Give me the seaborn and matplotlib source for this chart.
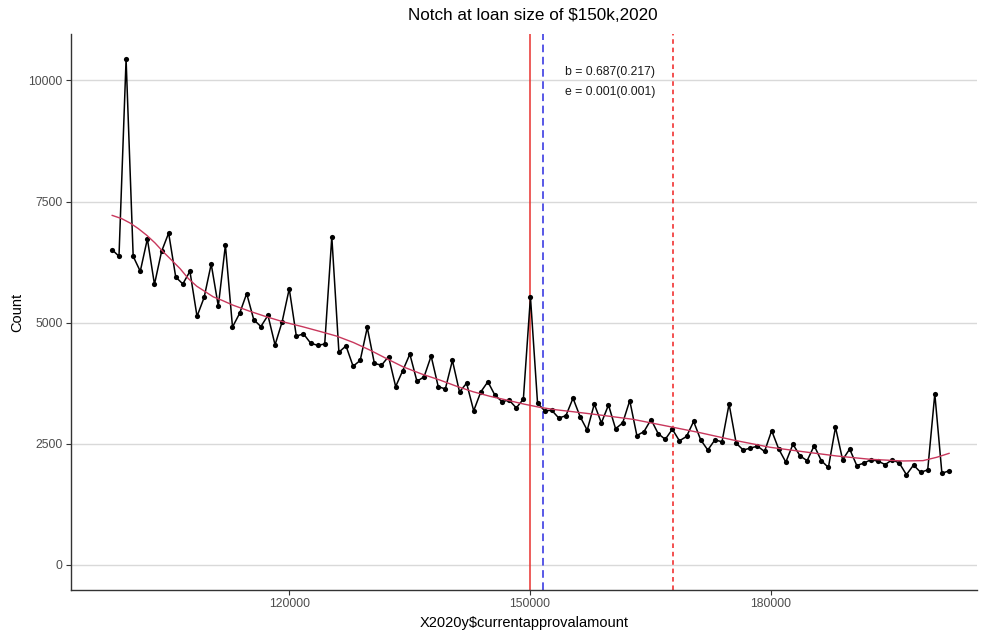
import numpy as np
import pandas as pd
import matplotlib
matplotlib.use("Agg")
import matplotlib.pyplot as plt
import seaborn as sns

# ---------------- data ----------------
loan_size = [
    97900, 98784, 99668, 100552, 101436, 102320, 103204, 104088, 104972, 105856,
    106740, 107624, 108508, 109392, 110276, 111160, 112044, 112928, 113812, 114696,
    115580, 116464, 117348, 118232, 119116, 120000, 120884, 121768, 122652, 123536,
    124420, 125304, 126188, 127072, 127956, 128840, 129724, 130608, 131492, 132376,
    133260, 134144, 135028, 135912, 136796, 137680, 138564, 139448, 140332, 141216,
    142100, 142984, 143868, 144752, 145636, 146520, 147404, 148288, 149172, 150056,
    150940, 151824, 152708, 153592, 154476, 155360, 156244, 157128, 158012, 158896,
    159780, 160664, 161548, 162432, 163316, 164200, 165084, 165968, 166852, 167736,
    168620, 169504, 170388, 171272, 172156, 173040, 173924, 174808, 175692, 176576,
    177460, 178344, 179228, 180112, 180996, 181880, 182764, 183648, 184532, 185416,
    186300, 187184, 188068, 188952, 189836, 190720, 191604, 192488, 193372, 194256,
    195140, 196024, 196908, 197792, 198676, 199560, 200444, 201328, 202212,
]
count = [
    6510, 6370, 10440, 6370, 6060, 6730, 5790, 6470, 6850, 5940,
    5800, 6060, 5130, 5520, 6210, 5340, 6600, 4910, 5190, 5600,
    5060, 4920, 5150, 4540, 5020, 5700, 4720, 4770, 4580, 4530,
    4560, 6770, 4390, 4520, 4100, 4220, 4900, 4160, 4120, 4300,
    3680, 4010, 4350, 3790, 3880, 4310, 3680, 3630, 4220, 3570,
    3750, 3180, 3570, 3780, 3500, 3370, 3400, 3240, 3420, 5530,
    3340, 3180, 3190, 3030, 3080, 3440, 3060, 2780, 3320, 2930,
    3300, 2810, 2930, 3390, 2670, 2750, 3000, 2710, 2590, 2800,
    2560, 2650, 2960, 2580, 2370, 2580, 2540, 3320, 2510, 2370,
    2410, 2450, 2340, 2770, 2390, 2120, 2490, 2250, 2150, 2460,
    2150, 2010, 2840, 2170, 2390, 2050, 2100, 2170, 2140, 2070,
    2170, 2100, 1860, 2060, 1910, 1960, 3530, 1890, 1940,
]

# counterfactual fit (red curve)
fit_x = [97913, 99121, 100156, 101190, 102243, 103271, 104305, 105353, 106386,
         107421, 108467, 109579, 110536, 111583, 112990, 115000, 117190, 119400,
         121713, 123800, 125912, 128000, 130062, 132100, 134174, 136500, 138785,
         140800, 142897, 145000, 147097, 149200, 151246, 153300, 155358, 158723,
         162835, 167034, 171184, 175296, 179907, 184019, 188218, 192368, 196480,
         198972, 200679, 202249]
fit_y = [7216, 7148, 7058, 6942, 6804, 6646, 6460, 6289, 6117,
         5911, 5753, 5635, 5532, 5464, 5361, 5240, 5120, 5010,
         4914, 4820, 4722, 4590, 4433, 4260, 4089, 3940, 3814,
         3690, 3574, 3480, 3402, 3320, 3251, 3200, 3161, 3093,
         3004, 2866, 2728, 2577, 2427, 2336, 2247, 2179, 2144,
         2151, 2220, 2303]

notch = 150000
lower_bound = 151620
upper_bound = 167780
annot_text = ["b = 0.687(0.217)", "e = 0.001(0.001)"]
annot_x = 160000
annot_y = [10170, 9760]
y_ticks = [0, 2500, 5000, 7500, 10000]
x_ticks = [120000, 150000, 180000]

title = "Notch at loan size of $150k,2020"
xlabel = "X2020y$currentapprovalamount"
ylabel = "Count"

# ---------------- plot ----------------
sns.set_theme(style="white")
plt.rcParams["font.family"] = ["Liberation Sans", "DejaVu Sans"]

df = pd.DataFrame({"x": loan_size, "y": count})
fit = pd.DataFrame({"x": fit_x, "y": fit_y})

W, H = 982, 633
fig = plt.figure(figsize=(W / 100, H / 100), dpi=100)
L, R, T, B = 71, 977, 34, 590
ax = fig.add_axes([L / W, 1 - B / H, (R - L) / W, (B - T) / H])

for yt in y_ticks:
    ax.axhline(yt, color="#D9D9D9", lw=1.0, zorder=0)

sns.lineplot(data=df, x="x", y="y", color="black", lw=1.1, ax=ax, zorder=3)
sns.scatterplot(data=df, x="x", y="y", color="black", s=14, edgecolor="black",
                linewidth=0, ax=ax, zorder=4)
sns.lineplot(data=fit, x="x", y="y", color="#C8375C", lw=1.0, ax=ax, zorder=5)

ax.axvline(notch, color="#E8312F", lw=1.1, zorder=2)
ax.axvline(lower_bound, color="#2B2BE0", lw=1.1, ls=(0, (5, 3)), zorder=2)
ax.axvline(upper_bound, color="#F02020", lw=1.1, ls=(0, (3, 2.5)), zorder=2)

for t, yy in zip(annot_text, annot_y):
    ax.text(annot_x, yy, t, ha="center", va="center", fontsize=8.8, color="#1a1a1a")

ax.set_xlim(92804, 205701)
ax.set_ylim(-520, 10960)
ax.set_xticks(x_ticks)
ax.set_xticklabels([str(v) for v in x_ticks])
ax.set_yticks(y_ticks)
ax.set_yticklabels([str(v) for v in y_ticks])
ax.tick_params(axis="both", which="both", length=3.5, width=0.8, color="#333333",
               labelcolor="#4D4D4D", labelsize=8.8, pad=2.5,
               bottom=True, left=True)
for s in ["top", "right"]:
    ax.spines[s].set_visible(False)
for s in ["left", "bottom"]:
    ax.spines[s].set_color("#333333")
    ax.spines[s].set_linewidth(1.0)
ax.grid(False)

ax.set_xlabel(xlabel, fontsize=10.5, color="black", labelpad=4)
ax.set_ylabel(ylabel, fontsize=10.5, color="black", labelpad=3)
fig.text(533 / W, 1 - 15 / H, title, ha="center", va="center", fontsize=12.3, color="black")

fig.savefig("out.png", dpi=100)
